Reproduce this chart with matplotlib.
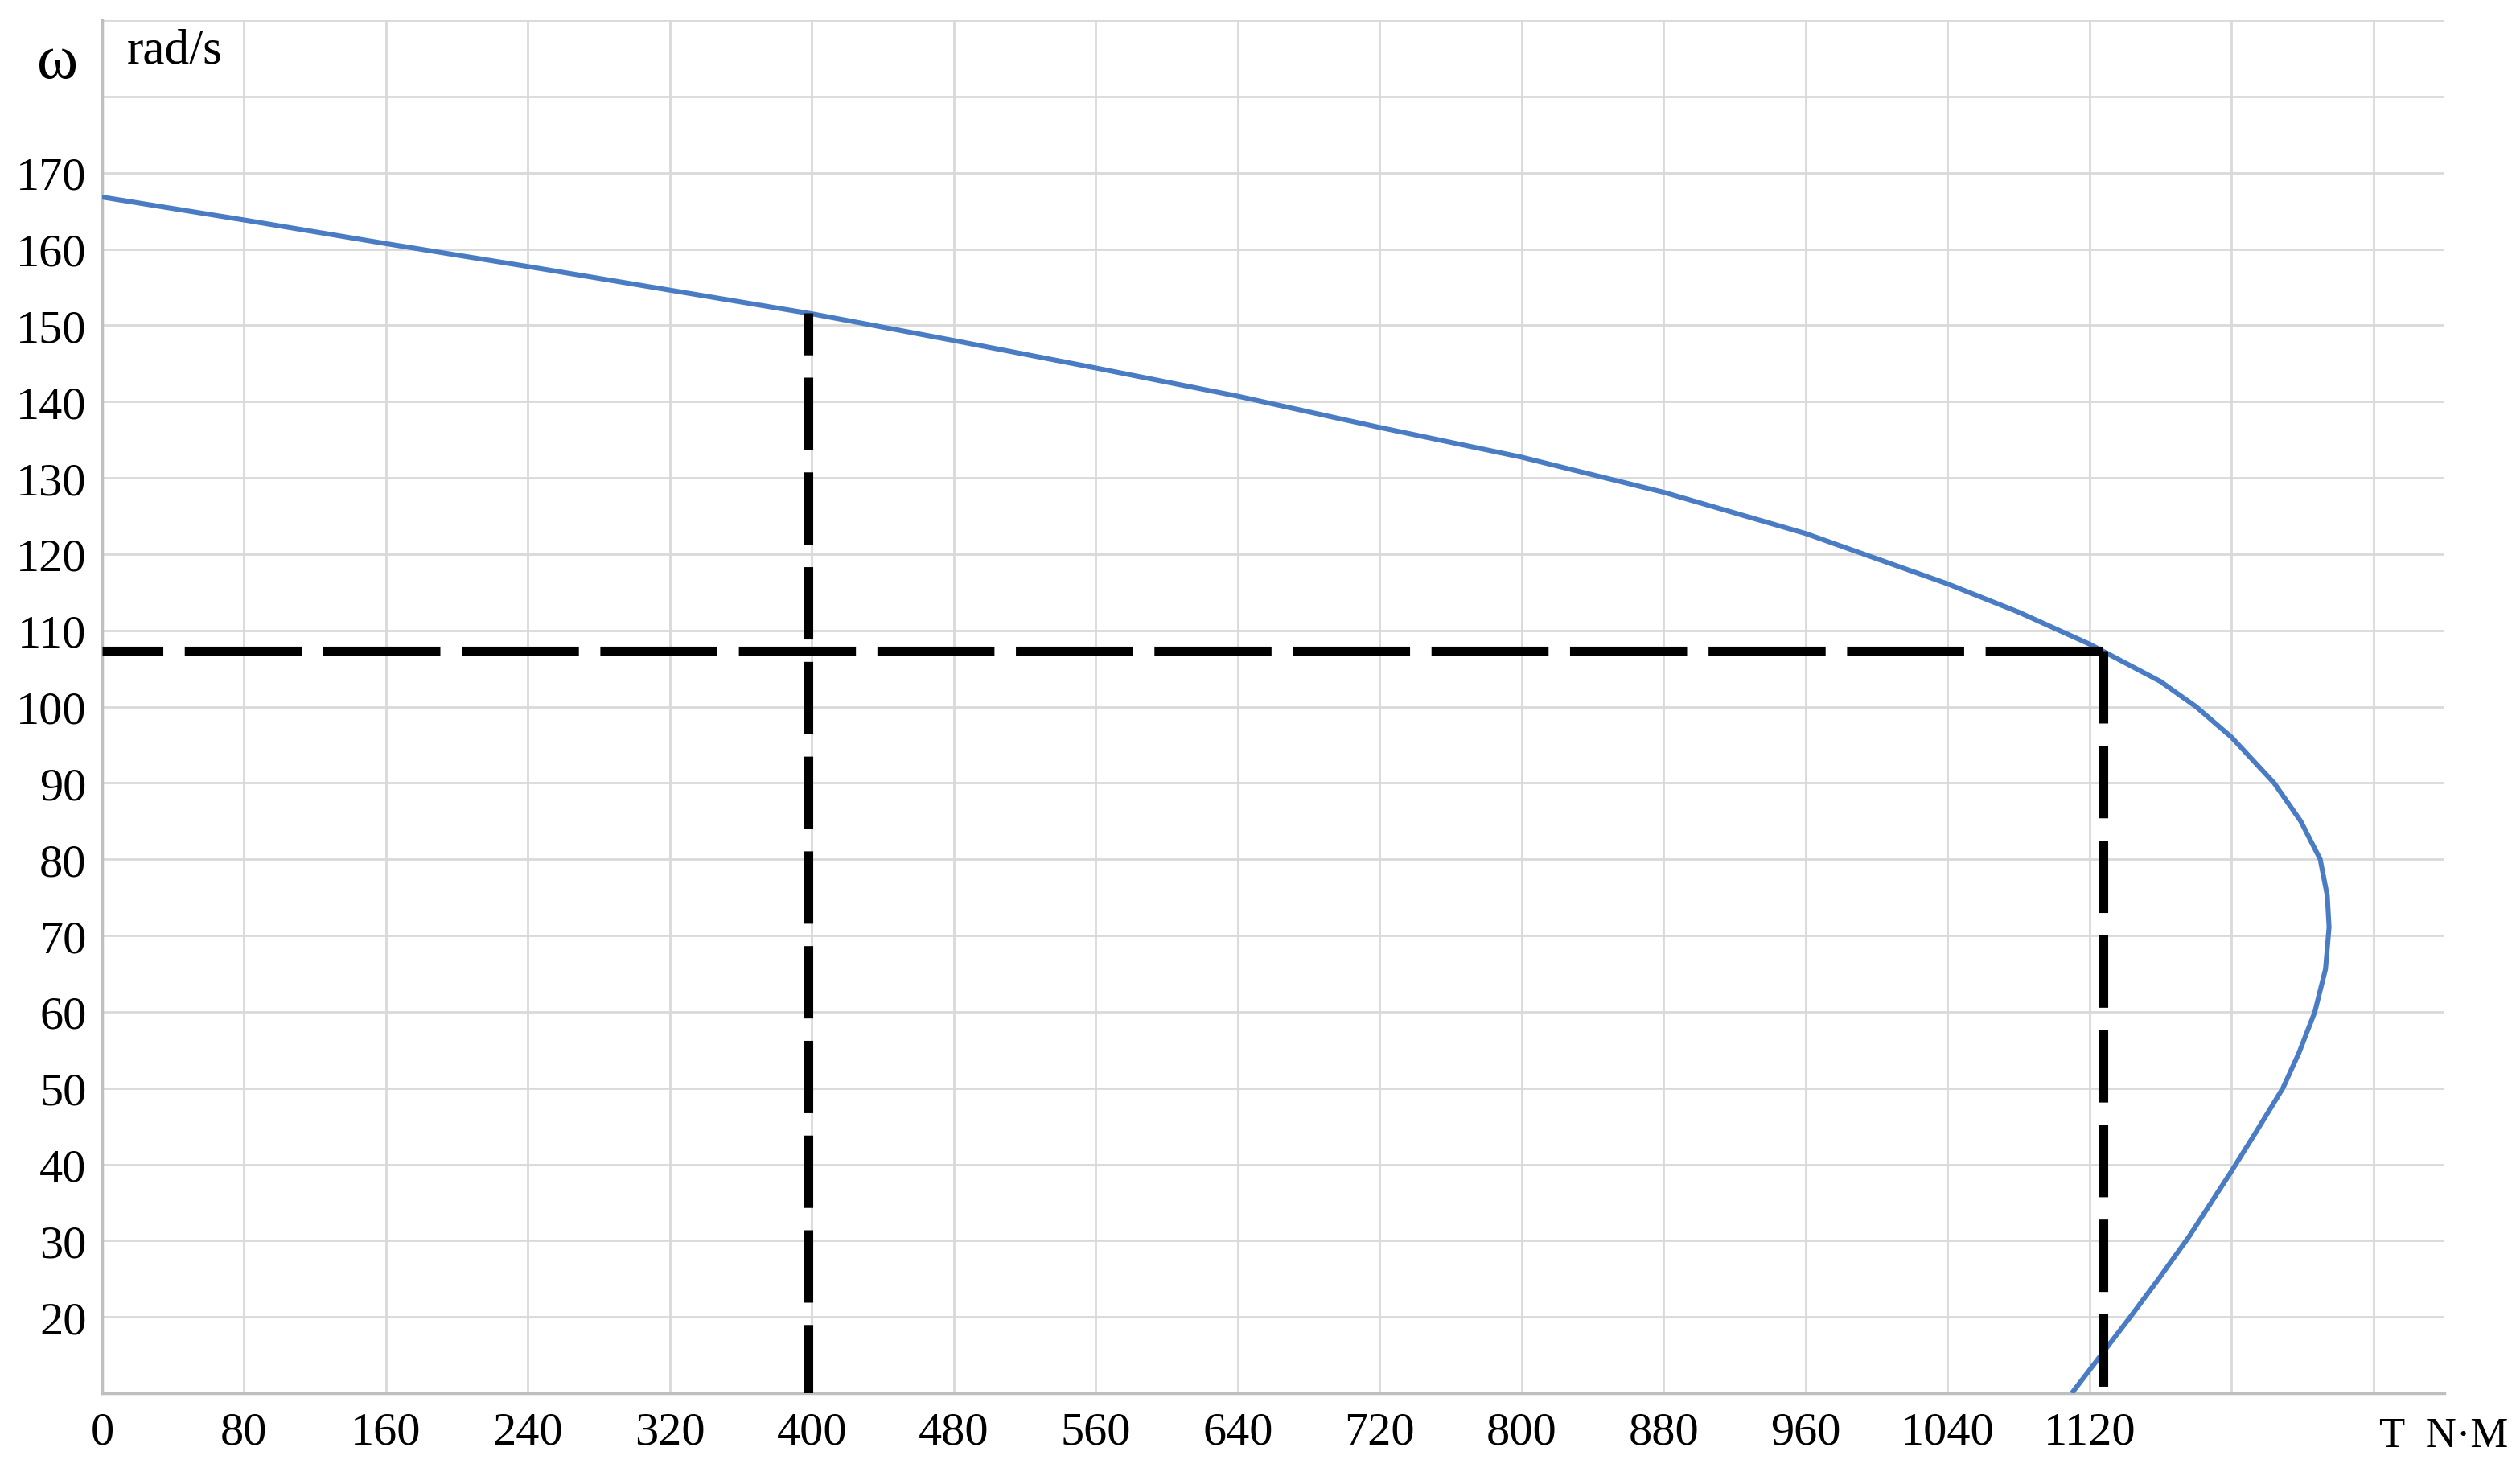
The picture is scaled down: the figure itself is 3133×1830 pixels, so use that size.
import matplotlib
matplotlib.use("Agg")
import matplotlib.pyplot as plt

# ---- data ----
torque = [0, 80, 160, 240, 320, 400, 480, 560, 640, 720, 800, 880, 960, 1000,
          1040, 1080, 1120, 1160, 1180, 1200, 1224, 1239, 1250, 1254, 1255,
          1253, 1247, 1238, 1229, 1214, 1200, 1176, 1159, 1143, 1110]
omega = [166.8, 163.8, 160.7, 157.7, 154.6, 151.5, 148.0, 144.4, 140.7, 136.6,
         132.7, 128.1, 122.7, 119.4, 116.1, 112.4, 108.2, 103.3, 100.0, 96.0,
         90.0, 85.0, 80.0, 75.2, 71.1, 65.6, 60.0, 54.6, 50.0, 44.3, 39.1,
         30.5, 25.0, 20.0, 10.0]

op_left_T = 398          # vertical reference line 1
op_left_w = 151.6
op_right_T = 1128        # vertical reference line 2
op_right_w = 107.3       # horizontal reference line level

x_ticks = list(range(0, 1281, 80))
x_labels = [str(v) if v <= 1120 else "" for v in x_ticks]
y_ticks = list(range(10, 191, 10))
y_labels = [str(v) if 20 <= v <= 170 else "" for v in y_ticks]

x_min, x_max = 0, 1320
y_min, y_max = 10, 190

# ---- figure ----
serif = ["Liberation Serif", "DejaVu Serif"]
fig = plt.figure(figsize=(31.33, 18.31), dpi=100)
ax = fig.add_axes([0.0405, 0.0535, 0.9295, 0.9323])

ax.set_xlim(x_min, x_max)
ax.set_ylim(y_min, y_max)
ax.set_xticks(x_ticks)
ax.set_xticklabels(x_labels, fontfamily=serif, fontsize=42)
ax.set_yticks(y_ticks)
ax.set_yticklabels(y_labels, fontfamily=serif, fontsize=42)
ax.tick_params(axis="both", length=0)
ax.tick_params(axis="x", pad=16)
ax.tick_params(axis="y", pad=14)

ax.grid(True, color="#d9d9d9", linewidth=2.0)
ax.set_axisbelow(True)
for side in ("top", "right"):
    ax.spines[side].set_visible(False)
for side in ("left", "bottom"):
    ax.spines[side].set_color("#bfbfbf")
    ax.spines[side].set_linewidth(2.5)

# characteristic curve
ax.plot(torque, omega, color="#4a7cc4", linewidth=4.4, zorder=3,
        solid_joinstyle="round", solid_capstyle="butt")

# dashed reference lines
ax.plot([x_min, op_right_T], [op_right_w, op_right_w], color="black",
        linewidth=8, linestyle=(6.3, (13.1, 2.4)), zorder=4,
        dash_capstyle="butt")
ax.plot([op_left_T, op_left_T], [op_left_w, y_min], color="black",
        linewidth=8, linestyle=(3.4, (8.1, 2.5)), zorder=4,
        dash_capstyle="butt")
ax.plot([op_right_T, op_right_T], [op_right_w, y_min], color="black",
        linewidth=8, linestyle=(0, (8.1, 2.5)), zorder=4,
        dash_capstyle="butt")

# axis unit labels
fig.text(72 / 3133, 1 - 78 / 1831, "ω", fontfamily=serif, fontsize=56,
         ha="center", va="center")
fig.text(158 / 3133, 1 - 64 / 1831, "rad/s", fontfamily=serif, fontsize=44,
         ha="left", va="center")
fig.text(3118 / 3133, 1 - 1786 / 1831, "T  N·M", fontfamily=serif, fontsize=38,
         ha="right", va="center")

fig.savefig("out.png", dpi=100, facecolor="white")
